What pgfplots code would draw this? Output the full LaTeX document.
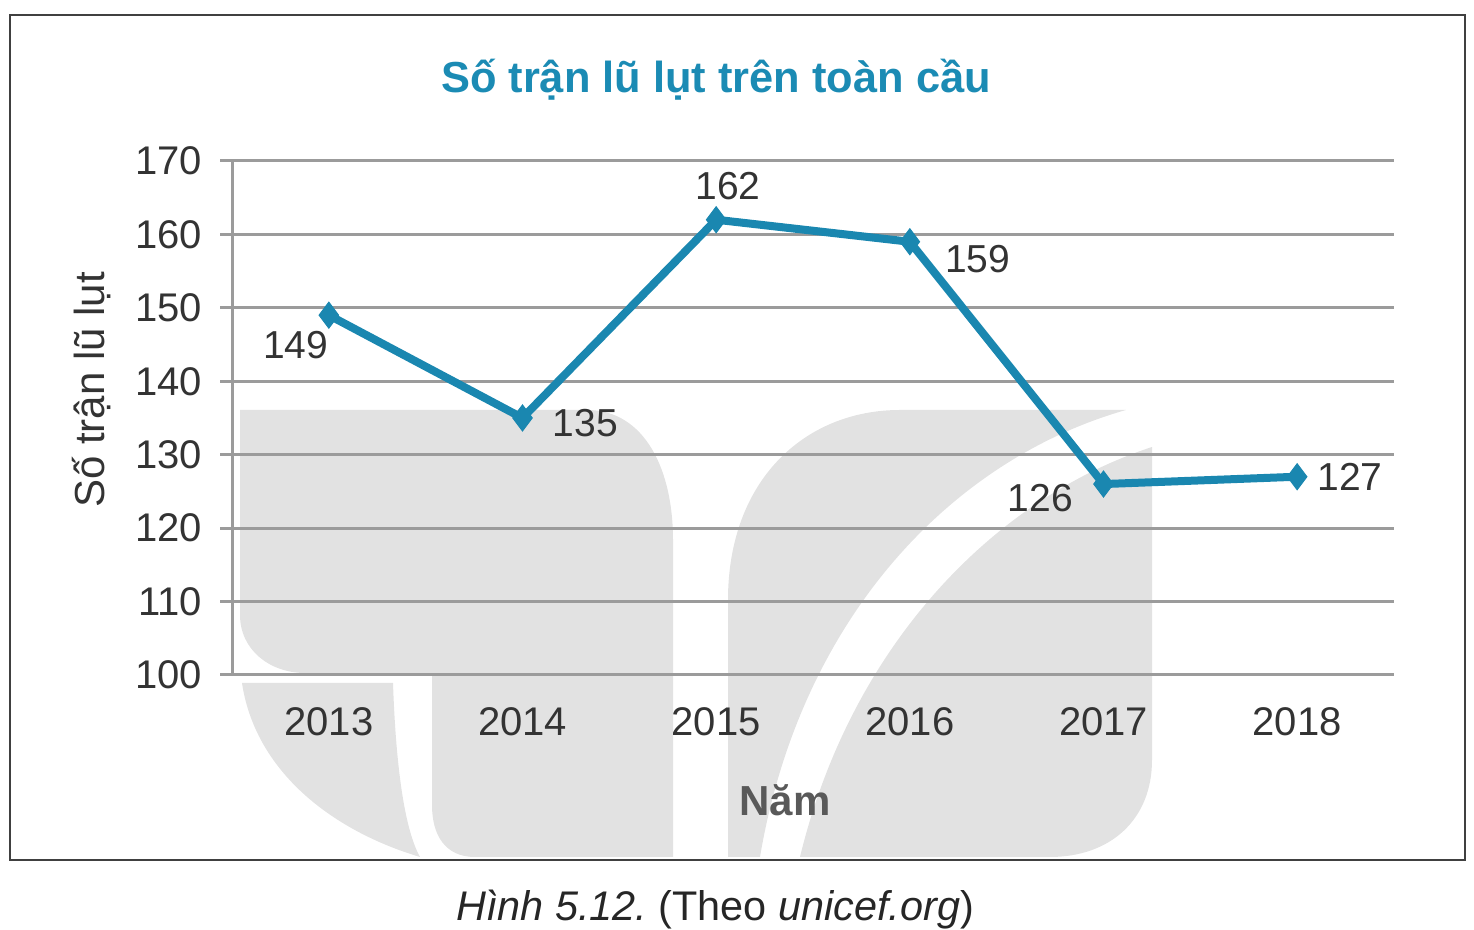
\documentclass[border=0pt]{standalone}
\usepackage{pgfplots}
\pgfplotsset{compat=1.18}
\usepackage{fontspec}
\setmainfont{Liberation Sans}
\frenchspacing
\definecolor{teal1}{RGB}{26,135,176}
\definecolor{titlec}{RGB}{27,139,180}
\definecolor{gridc}{RGB}{155,155,155}
\definecolor{txt}{RGB}{51,51,51}
\definecolor{wm}{RGB}{226,226,226}
\begin{document}
\begin{tikzpicture}
\useasboundingbox (0,0) rectangle (737pt,465pt);
% watermark (px coordinates, y down)
\begin{scope}[shift={(0pt,465pt)}, x=0.5pt, y=-0.5pt]
\fill[wm] (240,410) -- (587,410) .. controls (645,410) and (673,470) .. (673,540) -- (673,857) -- (475,857) .. controls (445,857) and (432,835) .. (432,805) -- (432,673) -- (305,673) .. controls (270,673) and (240,650) .. (240,615) -- cycle;
\fill[wm] (242,683) -- (393,683) .. controls (396,770) and (405,830) .. (420,857) .. controls (330,830) and (255,770) .. (242,683) -- cycle;
\fill[wm] (728,857) -- (728,600) .. controls (728,480) and (805,410) .. (900,410) -- (1126,410) .. controls (950,460) and (800,620) .. (760,857) -- cycle;
\fill[wm] (1152,447) -- (1152,760) .. controls (1152,820) and (1110,857) .. (1050,857) -- (800,857) .. controls (850,650) and (990,500) .. (1152,447) -- cycle;
\end{scope}
% frame
\draw[black!75, line width=1.2pt] (5pt,35pt) rectangle (732.5pt,457.5pt);
\begin{axis}[
  at={(116pt,127.5pt)}, anchor=south west,
  width=581pt, height=257pt, scale only axis,
  xmin=0.5, xmax=6.5, ymin=100, ymax=170,
  ytick={100,110,...,170},
  xtick={1,2,3,4,5,6},
  xticklabels={2013,2014,2015,2016,2017,2018},
  major x tick style={draw=none},
  extra x ticks={0.5,1.5,2.5,3.5,4.5,5.5,6.5},
  extra x tick labels={},
  extra x tick style={grid=none, major tick length=6.5pt, tick style={draw=gridc, line width=1.5pt}},
  ymajorgrids, grid style={draw=gridc, line width=1.5pt},
  axis x line*=bottom, axis y line*=left,
  axis line style={draw=gridc, line width=1.5pt, -},
  tick align=outside, major tick length=6pt,
  tick style={draw=gridc, line width=1.5pt},
  /pgf/number format/assume math mode=true,
  ticklabel style={font=\fontsize{20}{20}\selectfont, text=txt},
  xticklabel style={yshift=-7pt},
  yticklabel style={xshift=-5.5pt},
  clip=false,
]
\addplot[color=teal1, line width=4pt, mark=diamond*, mark size=6.5pt, mark options={fill=teal1, line width=0.5pt}]
  coordinates {(1,149) (2,135) (3,162) (4,159) (5,126) (6,127)};
\begin{scope}[every node/.style={font=\fontsize{19.5}{19.5}\selectfont, text=txt, anchor=center}]
\node[xshift=-16.5pt, yshift=-15pt] at (axis cs:1,149) {149};
\node[xshift=31.5pt, yshift=-2.5pt] at (axis cs:2,135) {135};
\node[xshift=6pt, yshift=17pt] at (axis cs:3,162) {162};
\node[xshift=34pt, yshift=-8.5pt] at (axis cs:4,159) {159};
\node[xshift=-31.5pt, yshift=-7pt] at (axis cs:5,126) {126};
\node[xshift=26.5pt, yshift=0pt] at (axis cs:6,127) {127};
\end{scope}
\end{axis}
\node[font=\fontsize{21.7}{21.7}\selectfont\bfseries, text=titlec] at (358pt,425pt) {Số trận lũ lụt trên toàn cầu};
\node[font=\fontsize{21}{21}\selectfont, text=txt, rotate=90] at (46pt,270pt) {Số trận lũ lụt};
\node[font=\fontsize{21}{21}\selectfont\bfseries, text=black!65] at (392.5pt,65pt) {Năm};
\node[font=\fontsize{20.7}{20.7}\selectfont, text=black!85] at (357.5pt,10pt) {\textit{Hình 5.12.} (Theo \textit{unicef.org})};
\end{tikzpicture}
\end{document}
